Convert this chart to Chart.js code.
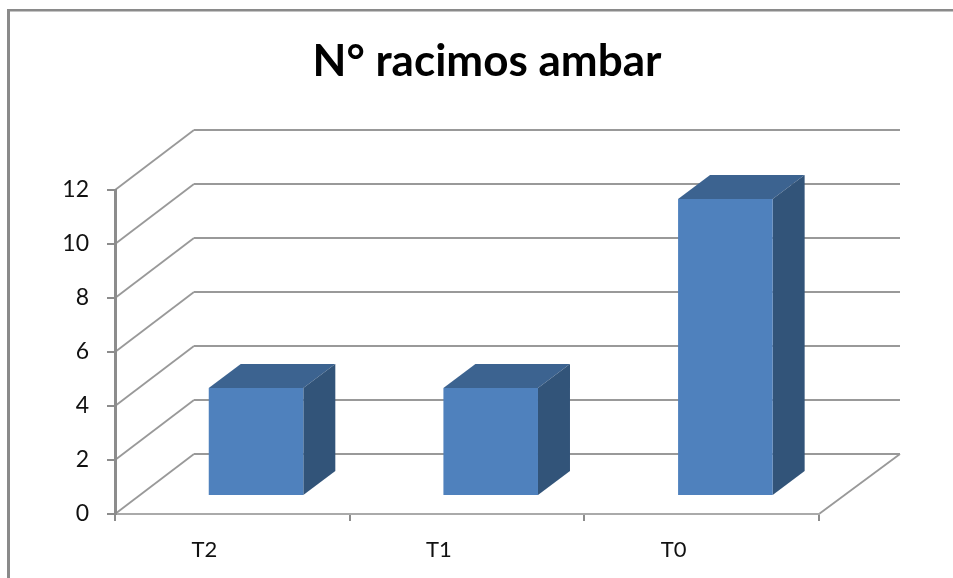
<!DOCTYPE html>
<html>
<head>
<meta charset="utf-8">
<style>html,body{margin:0;padding:0;background:#fff}canvas{display:block}</style>
<script src="https://cdn.jsdelivr.net/npm/chart.js@4"></script>
</head>
<body>
<canvas id="c" width="953" height="578"></canvas>
<script>
const categories = ['T2', 'T1', 'T0'];
const racimos = [4, 4, 11];
const yTicks = [0, 2, 4, 6, 8, 10, 12];
const chartTitle = 'N° racimos ambar';

const AXIS = '#8c8c8c', GRID = '#999999';
const FRONT = '#4f81bd', TOP = '#3c6390', SIDE = '#325479';
const BACK = {dxL: 79, dxR: 81, dy: -60};
const BAR_SHIFT = {x: 23.7, y: -18};
const BAR_DEPTH = {x: 32, y: -24};

const frameAndWalls = {
  id: 'frameAndWalls',
  afterLayout(chart) {
    const tb = chart.titleBlock;
    tb.left = 0; tb.right = 974;
  },
  beforeDraw(chart) {
    const {ctx, scales: {x, y}} = chart;
    ctx.save();
    ctx.fillStyle = '#fff';
    ctx.fillRect(0, 0, chart.width, chart.height);
    ctx.fillStyle = '#8a8a8a';
    ctx.fillRect(7, 9, chart.width - 7, 2.5);
    ctx.fillRect(7, 9, 3, chart.height - 9);
    const L = x.left, R = x.right;
    yTicks.forEach(v => {
      const p = y.getPixelForValue(v);
      ctx.strokeStyle = GRID;
      ctx.lineWidth = 1.8;
      ctx.beginPath();
      ctx.moveTo(L, p);
      ctx.lineTo(L + BACK.dxL, p + BACK.dy);
      ctx.stroke();
      ctx.lineWidth = 2;
      ctx.beginPath();
      ctx.moveTo(L + BACK.dxL, p + BACK.dy);
      ctx.lineTo(R + BACK.dxR, p + BACK.dy);
      ctx.stroke();
    });
    const b = y.getPixelForValue(0);
    ctx.lineWidth = 1.8;
    ctx.beginPath();
    ctx.moveTo(R, b);
    ctx.lineTo(R + BACK.dxR, b + BACK.dy);
    ctx.stroke();
    ctx.restore();
  },
  beforeDatasetsDraw(chart) {
    const {ctx} = chart;
    ctx.save();
    ctx.translate(BAR_SHIFT.x, BAR_SHIFT.y);
    const meta = chart.getDatasetMeta(0);
    meta.data.forEach(el => {
      const l = el.x - el.width / 2, r = el.x + el.width / 2, t = el.y, bt = el.base;
      ctx.fillStyle = TOP;
      ctx.beginPath();
      ctx.moveTo(l, t);
      ctx.lineTo(l + BAR_DEPTH.x, t + BAR_DEPTH.y);
      ctx.lineTo(r + BAR_DEPTH.x, t + BAR_DEPTH.y);
      ctx.lineTo(r, t);
      ctx.closePath();
      ctx.fill();
      ctx.fillStyle = SIDE;
      ctx.beginPath();
      ctx.moveTo(r, t);
      ctx.lineTo(r + BAR_DEPTH.x, t + BAR_DEPTH.y);
      ctx.lineTo(r + BAR_DEPTH.x, bt + BAR_DEPTH.y);
      ctx.lineTo(r, bt);
      ctx.closePath();
      ctx.fill();
    });
  },
  afterDatasetsDraw(chart) {
    chart.ctx.restore();
  }
};

new Chart(document.getElementById('c'), {
  type: 'bar',
  data: {
    labels: categories,
    datasets: [{
      data: racimos,
      backgroundColor: FRONT,
      borderWidth: 0,
      barPercentage: 0.403,
      categoryPercentage: 1
    }]
  },
  plugins: [frameAndWalls],
  options: {
    responsive: false,
    animation: false,
    layout: {padding: {left: 0, right: 134, top: 0, bottom: 0}},
    plugins: {
      legend: {display: false},
      tooltip: {enabled: false},
      title: {
        display: true,
        text: chartTitle,
        color: '#000',
        font: {family: 'Lato', size: 44, weight: 'bold', lineHeight: 1.2},
        padding: {top: 35, bottom: 102.2}
      }
    },
    scales: {
      x: {
        offset: true,
        afterFit(s) { s.height = 64; },
        border: {color: '#aaaaaa', width: 2},
        grid: {display: true, offset: true, drawOnChartArea: false, drawTicks: true, tickLength: 7, color: AXIS, lineWidth: 2},
        ticks: {color: '#111', padding: 16, labelOffset: -28, maxRotation: 0, font: {family: 'Lato', size: 22}}
      },
      y: {
        min: 0,
        max: 12,
        afterFit(s) { s.width = 115; },
        border: {color: AXIS, width: 3},
        grid: {display: true, drawOnChartArea: false, drawTicks: true, tickLength: 8, color: AXIS, lineWidth: 2},
        ticks: {stepSize: 2, color: '#111', padding: 18, font: {family: 'Lato', size: 23}}
      }
    }
  }
});
</script>
</body>
</html>
